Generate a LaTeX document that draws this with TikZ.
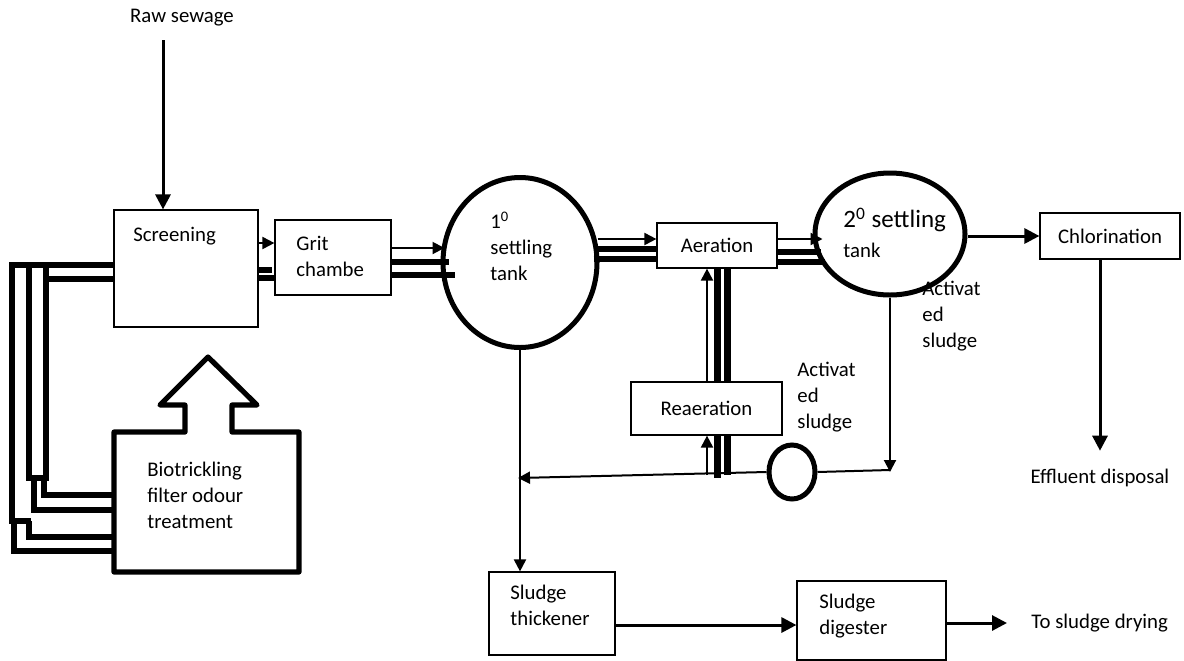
\documentclass[tikz,border=0pt]{standalone}
\usepackage{fontspec}
\setmainfont{Carlito}
\usetikzlibrary{shapes.geometric,arrows.meta,calc}
\begin{document}
\begin{tikzpicture}[x=0.5pt,y=-0.5pt,
  txt/.style={inner sep=0pt, font=\fontsize{10.4}{13}\selectfont, align=left},
  box/.style={draw, line width=0.6pt, fill=white, inner sep=0pt, font=\fontsize{10.4}{13}\selectfont},
  tank/.style={draw, ellipse, line width=2.5pt, inner sep=0pt},
  arr/.style={line width=1pt, -{Triangle[length=6pt,width=6pt]}},
  barr/.style={line width=1.5pt, -{Triangle[length=7.5pt,width=7.5pt]}},
  pipe/.style={line width=3pt},
  duct/.style={line width=2.7pt},
]
\fill[white] (0,0) rectangle (1184,660);
\useasboundingbox (0,0) rectangle (1184,660);

% ---- nodes ----
\node[txt] (raw) at (182,18) {Raw sewage};
\node[box, minimum width=72pt, minimum height=58.5pt] (scr) at (186,268.5) {};
\node[txt, anchor=west] (scrt) at (133,236) {Screening};
\node[box, minimum width=58pt, minimum height=37.5pt] (grit) at (333,257.5) {};
\node[txt, anchor=west] (gritt) at (296,256.5) {Grit\\chambe};
\node[tank, minimum width=77pt, minimum height=85pt] (t1) at (520,262.5) {};
\node[txt, anchor=west] (t1t) at (490,246) {1\textsuperscript{0}\\settling\\tank};
\node[box, minimum width=60pt, minimum height=22.5pt] (aer) at (717,245.5) {Aeration};
\node[tank, minimum width=75pt, minimum height=61pt] (t2) at (890,234) {};
\node[txt, anchor=west, font=\fontsize{12.5}{14}\selectfont] (t2a) at (843,220) {2\textsuperscript{0} settling};
\node[txt, anchor=west] (t2b) at (843,250) {tank};
\node[box, minimum width=70pt, minimum height=23pt] (chl) at (1110,236) {Chlorination};
\node[txt] (eff) at (1100,478) {Effluent disposal};
\node[tank, minimum width=23pt, minimum height=27pt] (pump) at (792,472) {};
\node[box, minimum width=63pt, minimum height=41.5pt] (thk) at (552,613.5) {};
\node[txt, anchor=west] (thkt) at (510,605) {Sludge\\thickener};
\node[box, minimum width=74.5pt, minimum height=39.5pt] (dig) at (871.5,620.5) {};
\node[txt, anchor=west] (digt) at (819,616) {Sludge\\digester};
\node[txt, anchor=west] (dry) at (1031,623) {To sludge drying};
\node[txt, anchor=west] (as1) at (797,397) {Activat\\ed\\sludge};
\node[txt, anchor=west] (as2) at (922,316) {Activat\\ed\\sludge};

% ---- return pipes through reaeration ----
\draw[line width=3.5pt] (aer.south -| 717,0) -- (717,478);
\draw[line width=3.5pt] (aer.south -| 727,0) -- (727,475);
\node[box, minimum width=75.5pt, minimum height=26.5pt] (rea) at (706.5,408.5) {Reaeration};

% ---- biotrickling filter ----
\coordinate (bioNW) at (114,432);
\draw[line width=2.6pt, line join=round] (bioNW) -- (185,432) -- (185,405) -- (160,405) -- (208,357)
  -- (257,405) -- (232,405) -- (232,432) -- (299,432) -- (299,572) -- (114,572) -- cycle;
\node[txt, anchor=west] (bio) at (147,495) {Biotrickling\\filter odour\\treatment};

% ---- odour ducts ----
\draw[line width=3.3pt] (scr.west |- 0,265) -- (12,265) -- (12,521) -- (31,521);
\draw[duct] (29,265) -- (29,478) -- (46,478) -- (46,265);
\draw[duct] (46,279) -- (scr.west |- 0,279);
\draw[duct] (34,481) -- (34,510) -- (bioNW |- 0,510);
\draw[duct] (44,481) -- (44,495) -- (bioNW |- 0,495);
\draw[duct] (29,521) -- (29,537) -- (bioNW |- 0,537);
\draw[duct] (14,523) -- (14,551) -- (bioNW |- 0,551);

% ---- main line ----
\coordinate (rawout) at (163,40);
\draw[barr] (rawout) -- (rawout |- scr.north);
\draw[arr] (scr.east |- 0,243) -- (grit.west |- 0,243);
\draw[pipe] (scr.east |- 0,270) -- ($(grit.west |- 0,270)+(-2,0)$);
\draw[pipe] (scr.east |- 0,278) -- (grit.west |- 0,278);

\draw[arr] (grit.east |- 0,248) -- ($(t1.west |- 0,248)+(4,0)$);
\draw[pipe] (grit.east |- 0,261.5) -- ($(t1.west |- 0,261.5)+(8,0)$);
\draw[pipe] (grit.east |- 0,275) -- ($(t1.west |- 0,275)+(14,0)$);

\draw[arr] ($(t1.east |- 0,239)+(-2,0)$) -- (aer.west |- 0,239);
\draw[pipe] ($(t1.east |- 0,249)+(-6,0)$) -- (aer.west |- 0,249);
\draw[pipe] ($(t1.east |- 0,259)+(-6,0)$) -- (aer.west |- 0,259);

\draw[arr] (aer.east |- 0,239) -- ($(t2.west |- 0,239)+(10,0)$);
\draw[pipe] (aer.east |- 0,252) -- ($(t2.west |- 0,252)+(8,0)$);
\draw[pipe] (aer.east |- 0,262) -- ($(t2.west |- 0,262)+(12,0)$);

\draw[barr] (t2.east |- 0,236) -- (chl.west |- 0,236);
\draw[barr] (chl.south -| eff.north) -- ($(eff.north)+(0,-18)$);

% ---- sludge return ----
\draw[arr] (t2.south) -- (t2.south |- pump);
\draw[line width=1pt] (t2.south |- 0,470) -- (pump.east);
\draw[arr] (pump.west) -- ($(t1.south |- 0,478)+(-2,0)$);
\draw[arr] (707,475) -- (rea.south -| 707,0);
\draw[arr] (rea.north -| 707,0) -- (aer.south -| 707,0);

% ---- sludge line ----
\draw[arr] (t1.south) -- (t1.south |- thk.north);
\draw[barr] (thk.east |- 0,625) -- (dig.west |- 0,625);
\draw[barr] (dig.east |- 0,623) -- ($(dry.west)+(-24,0)$);
\end{tikzpicture}
\end{document}
